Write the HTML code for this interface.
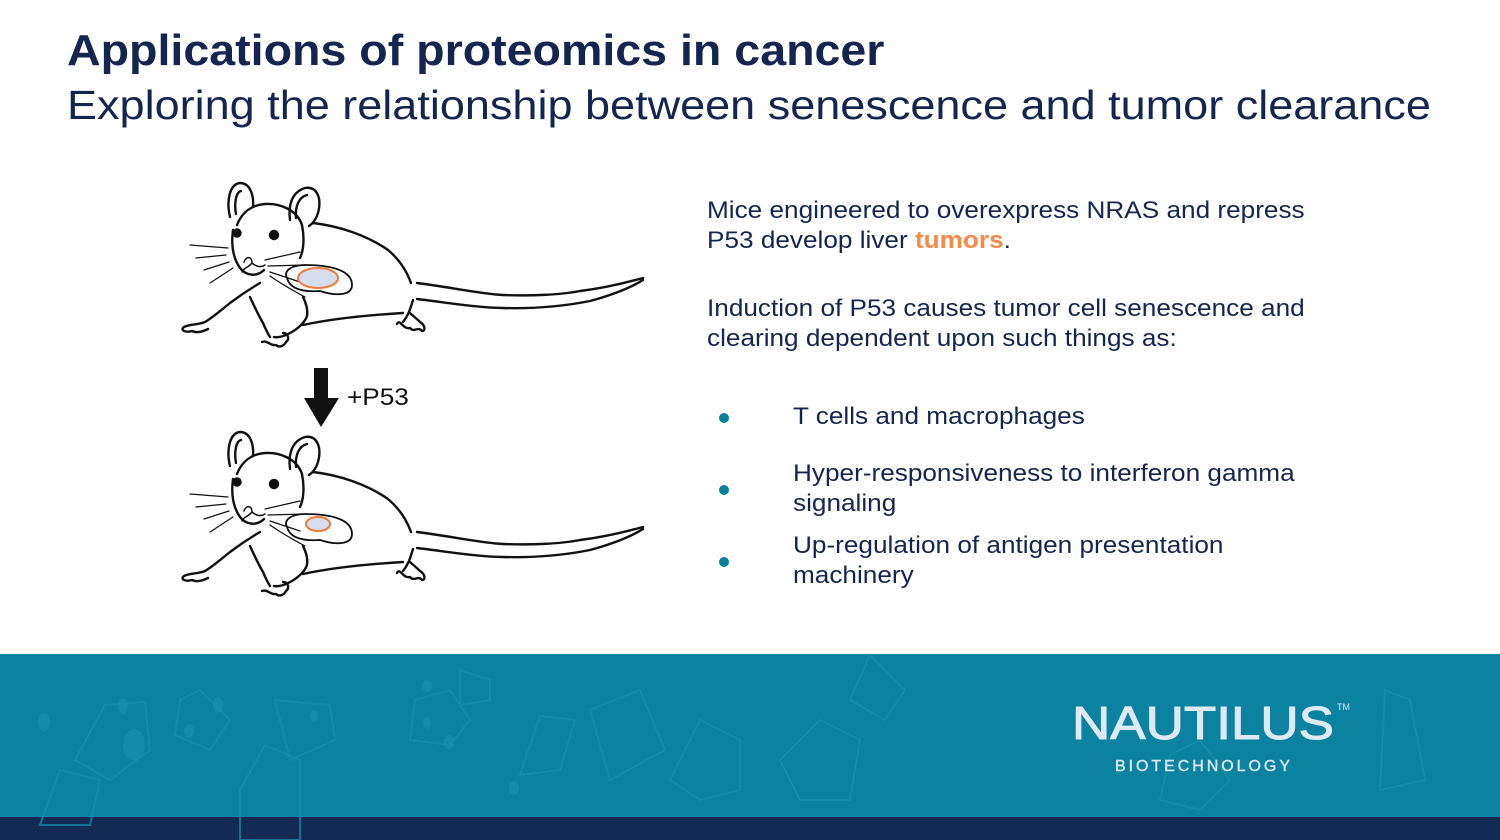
<!DOCTYPE html>
<html><head><meta charset="utf-8"><style>
html,body{margin:0;padding:0}
body{width:1500px;height:840px;position:relative;overflow:hidden;background:#fff;font-family:"Liberation Sans",Arial,sans-serif;color:#14254f}
.t{position:absolute;white-space:nowrap;transform-origin:0 0}
.b{transform:scaleX(1.09)}
.dot{position:absolute;width:10px;height:10px;border-radius:50%;background:#0b7f9c}
</style></head><body>
<div class="t" style="left:67px;top:26px;font-size:44px;font-weight:bold;transform:scaleX(1.058)">Applications of proteomics in cancer</div>
<div class="t" style="left:67px;top:82px;font-size:41px;transform:scaleX(1.098)">Exploring the relationship between senescence and tumor clearance</div>

<div class="t b" style="left:707px;top:196px;font-size:24px;line-height:30px">Mice engineered to overexpress NRAS and repress<br>P53 develop liver <b style="color:#f58a4b">tumors</b>.</div>
<div class="t b" style="left:707px;top:294px;font-size:24px;line-height:30px">Induction of P53 causes tumor cell senescence and<br>clearing dependent upon such things as:</div>
<div class="dot" style="left:719px;top:413px"></div>
<div class="t b" style="left:793px;top:403px;font-size:24px">T cells and macrophages</div>
<div class="dot" style="left:719px;top:485px"></div>
<div class="t b" style="left:793px;top:459px;font-size:24px;line-height:30px">Hyper-responsiveness to interferon gamma<br>signaling</div>
<div class="dot" style="left:719px;top:557px"></div>
<div class="t b" style="left:793px;top:531px;font-size:24px;line-height:30px">Up-regulation of antigen presentation<br>machinery</div>
<div class="t b" style="left:347px;top:384px;font-size:24px;color:#111">+P53</div>

<svg width="1500" height="840" style="position:absolute;left:0;top:0" xmlns="http://www.w3.org/2000/svg">
<defs>
<g id="mouse" fill="none" stroke="#111" stroke-width="2.4" stroke-linecap="round" stroke-linejoin="round">
 <path d="M230,217 C226,200 230,184 240,183 C250,183 254,195 253,207"/>
 <path d="M236,214 C234,203 236,192 241,191"/>
 <path d="M290,220 C288,205 292,192 305,188 C317,186 322,198 318,213 C316,220 312,224 309,226"/>
 <path d="M296,218 C295,206 299,197 307,195"/>
 <path d="M237,225 C242,212 252,205 265,204 C280,203 297,210 302,225 C305,240 303,252 300,258"/>
 <path d="M233,230 C231,245 233,258 240,268 C246,276 257,277 264,270"/>
 <path d="M313,223 C340,226 368,236 388,250 C400,260 407,272 411,283"/>
 <path d="M417,283 C450,287 480,294 503,295 C530,296 560,295 580,291 C605,288 625,283 643,278"/>
 <path d="M417,299 C450,303 480,308 503,308 C540,309 570,305 590,301 C612,295 630,288 643,280"/>
 <path d="M413,300 C410,310 408,316 403,322 M397,324 C400,318 403,330 410,328 C414,333 418,326 422,331 C426,331 425,325 420,322 C416,318 412,315 410,313"/>
 <path d="M303,325 C335,318 370,315 403,313"/>
 <path d="M303,297 C306,303 308,310 307,316 C305,322 300,327 292,332 C285,336 279,338 274,337 M262,342 C268,340 270,346 276,345 C279,348 284,346 286,342 C290,339 288,333 283,333"/>
 <path d="M260,283 C248,290 238,297 230,303 C220,311 212,318 205,322 C198,325 190,324 184,327 C180,330 185,333 192,331 C196,333 202,332 208,329"/>
 <path d="M250,297 C255,308 260,318 263,323 C266,330 268,334 270,337"/>
 <path d="M190,245 L228,248 M196,258 L226,255 M204,270 L229,262 M210,283 L233,268" stroke-width="1.2"/>
 <path d="M265,260 L300,252 M268,266 L305,265 M270,272 L300,282" stroke-width="1.2"/>
 <path d="M244,262 C246,256 252,256 252,263 C248,268 243,268 242,272 M252,263 C258,268 262,267 265,265" stroke-width="1.5"/>
 <path d="M287,278 C283,270 293,265 305,265 C330,265 352,270 352,285 C352,296 335,296 320,291 C305,292 290,290 287,278 Z" stroke-width="1.8"/>
 <path d="M270,276 C280,283 292,290 305,297" stroke-width="1.2"/>
 <circle cx="237" cy="233" r="3.5" fill="#111"/>
 <circle cx="274" cy="235" r="4" fill="#111"/>
</g>
</defs>
<use href="#mouse"/>
<ellipse cx="318" cy="278" rx="20" ry="10" fill="#d5deef" stroke="#f07a3a" stroke-width="2"/>
<use href="#mouse" transform="translate(0,249)"/>
<ellipse cx="318" cy="524" rx="12" ry="7" fill="#d5deef" stroke="#f07a3a" stroke-width="2"/>
<polygon points="314,368 328,368 328,398 339,398 321,427 304,398 314,398" fill="#111"/>

<rect x="0" y="654" width="1500" height="164" fill="#0a82a0"/>
<rect x="0" y="817" width="1500" height="23" fill="#132a54"/>
<g fill="none" stroke="#1791ad" stroke-width="2" opacity="0.7">
 <polygon points="105,705 145,702 150,750 110,780 75,760"/>
 <polygon points="60,770 100,780 90,825 40,825"/>
 <polygon points="265,745 300,760 300,840 240,840 240,790"/>
 <polygon points="275,700 330,705 335,740 290,760"/>
 <polygon points="200,690 230,720 210,750 175,735 180,700"/>
 <polygon points="415,700 450,690 470,720 450,745 410,740"/>
 <polygon points="540,716 575,720 560,770 520,775"/>
 <polygon points="590,710 640,690 665,750 610,780"/>
 <polygon points="700,720 740,740 740,790 700,800 670,780"/>
 <polygon points="820,720 860,740 850,800 800,800 780,760"/>
 <polygon points="870,655 905,690 885,720 850,700"/>
 <polygon points="1170,755 1200,740 1230,780 1200,810 1160,800"/>
 <polygon points="460,670 490,680 490,700 460,705"/>
 <polygon points="1385,690 1410,700 1425,780 1380,790"/>
</g>
<g fill="#1791ad" opacity="0.7">
 <ellipse cx="44" cy="722" rx="6" ry="9"/><ellipse cx="134" cy="745" rx="11" ry="16"/>
 <ellipse cx="123" cy="706" rx="5" ry="8"/><ellipse cx="218" cy="705" rx="5" ry="8"/>
 <ellipse cx="189" cy="731" rx="5" ry="7"/><ellipse cx="314" cy="716" rx="4" ry="6"/>
 <ellipse cx="427" cy="686" rx="5" ry="6"/><ellipse cx="514" cy="788" rx="5" ry="7"/>
 <ellipse cx="449" cy="742" rx="5" ry="7"/><ellipse cx="427" cy="723" rx="4" ry="6"/>
</g>
<text x="1072" y="739" font-family="Liberation Sans,sans-serif" font-size="46" fill="#dde9f5" stroke="#dde9f5" stroke-width="1" textLength="262" lengthAdjust="spacingAndGlyphs">NAUTILUS</text>
<text x="1337" y="710" font-family="Liberation Sans,sans-serif" font-size="9" fill="#dde9f5">TM</text>
<text x="1115" y="771" font-family="Liberation Sans,sans-serif" font-size="16" fill="#dde9f5" stroke="#dde9f5" stroke-width="0.4" textLength="175" lengthAdjust="spacing">BIOTECHNOLOGY</text>
</svg>
</body></html>
